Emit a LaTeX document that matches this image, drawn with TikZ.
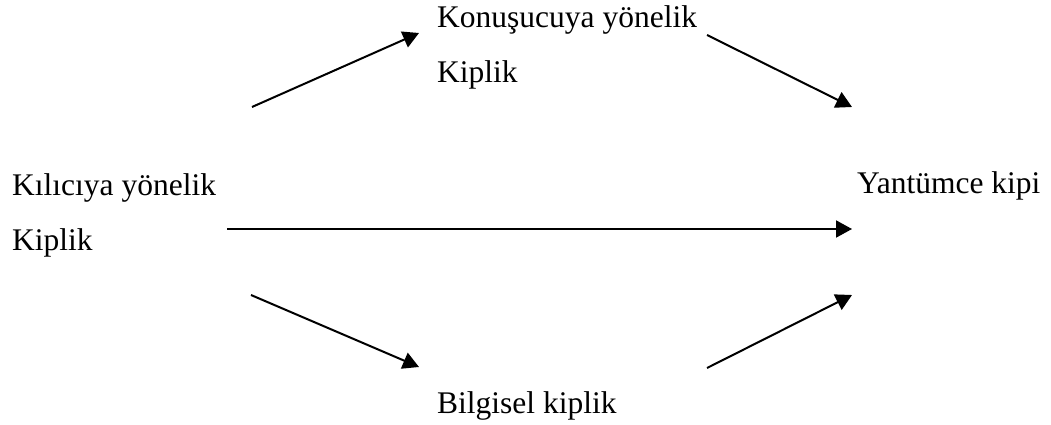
\documentclass[tikz,border=0pt]{standalone}
\usepackage{fontspec}
\setmainfont{Liberation Serif}
\usetikzlibrary{arrows.meta}
\tikzset{
  label text/.style={anchor=base west, inner sep=0pt, align=left,
    font=\fontsize{31.5}{55}\selectfont},
  link/.style={line width=2pt, -{Triangle[length=16pt,width=17pt]}}
}
\begin{document}
\begin{tikzpicture}[x=1pt,y=-1pt]
  \useasboundingbox (0,0) rectangle (1051,425);
  % labels (base anchor sits on the last line's baseline)
  \node[label text] (listener) at (12,250) {Kılıcıya yönelik\\Kiplik};
  \node[label text] (speaker)  at (437,83) {Konuşucuya yönelik\\Kiplik};
  \node[label text] (info)     at (437,413) {Bilgisel kiplik};
  \node[label text] (clause)   at (857,193) {Yantümce kipi};
  % arrow end points
  \coordinate (l-up)   at (252,107);
  \coordinate (s-in)   at (419,33);
  \coordinate (s-out)  at (707,35);
  \coordinate (c-up)   at (852,107);
  \coordinate (l-mid)  at (227,229);
  \coordinate (c-mid)  at (852,229);
  \coordinate (l-down) at (251,295);
  \coordinate (i-in)   at (419,367);
  \coordinate (i-out)  at (707,368);
  \coordinate (c-down) at (852,295);
  % connectors
  \draw[link] (l-up) -- (s-in);
  \draw[link] (s-out) -- (c-up);
  \draw[link] (l-mid) -- (c-mid);
  \draw[link] (l-down) -- (i-in);
  \draw[link] (i-out) -- (c-down);
\end{tikzpicture}
\end{document}
